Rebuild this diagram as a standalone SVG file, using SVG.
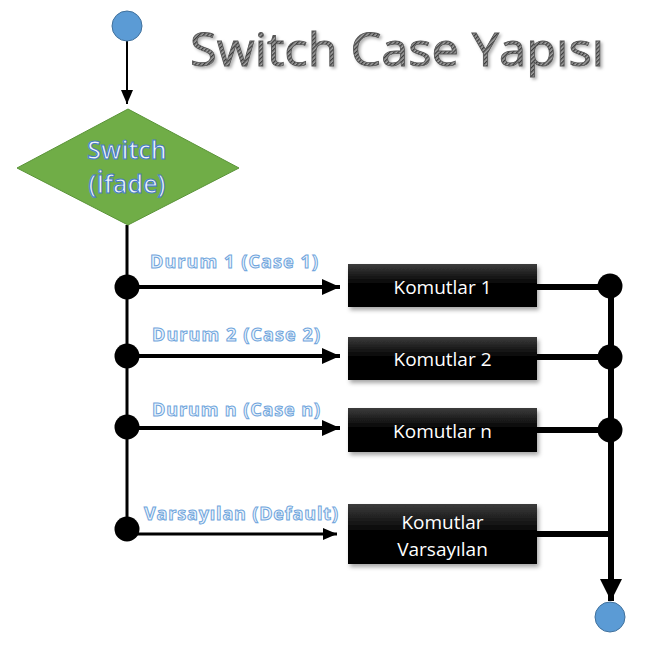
<svg xmlns="http://www.w3.org/2000/svg" width="672" height="645" viewBox="0 0 672 645">
<defs>
<linearGradient id="boxg" x1="0" y1="0" x2="0" y2="1">
<stop offset="0" stop-color="#3c3c3c"/>
<stop offset="0.45" stop-color="#050505"/>
<stop offset="1" stop-color="#000"/>
</linearGradient>
<pattern id="hatch" width="3" height="3" patternUnits="userSpaceOnUse" patternTransform="rotate(45)">
<rect width="3" height="3" fill="#a0a0a0"/>
<rect width="1.3" height="3" fill="#3a3a3a"/>
</pattern>
<filter id="sh" x="-10%" y="-20%" width="130%" height="160%">
<feDropShadow dx="2" dy="3" stdDeviation="2" flood-color="#000" flood-opacity="0.35"/>
</filter>
<filter id="tsh" x="-5%" y="-20%" width="115%" height="150%">
<feDropShadow dx="2" dy="2" stdDeviation="1.5" flood-color="#000" flood-opacity="0.3"/>
</filter>
<marker id="ah" markerUnits="userSpaceOnUse" markerWidth="18" markerHeight="18" viewBox="0 0 18 18" refX="18" refY="9" orient="auto">
<path d="M0,1 L18,9 L0,17 Z" fill="#000"/>
</marker>
<marker id="ahs" markerUnits="userSpaceOnUse" markerWidth="14" markerHeight="14" viewBox="0 0 14 14" refX="14" refY="7" orient="auto">
<path d="M0,1 L14,7 L0,13 Z" fill="#000"/>
</marker>
<marker id="ahb" markerUnits="userSpaceOnUse" markerWidth="22" markerHeight="22" viewBox="0 0 22 22" refX="22" refY="11" orient="auto">
<path d="M0,0 L22,11 L0,22 Z" fill="#000"/>
</marker>
</defs>
<style>
.circ{fill:#5b9bd5;stroke:#41719c;stroke-width:1}
.box{fill:url(#boxg);filter:url(#sh)}
.btxt{font-family:"Open Sans","Liberation Sans",sans-serif;font-size:19px;fill:#fff;text-anchor:middle}
.lbl{font-family:"Open Sans","Liberation Sans",sans-serif;font-size:18px;font-weight:bold;fill:#eef5fc;stroke:#6fa5dc;stroke-width:1px}
.dot{fill:#000}
.ln{stroke:#000;fill:none}
.sw{font-family:"Open Sans","Liberation Sans",sans-serif;font-size:25px;font-weight:600;fill:#eef4fb;stroke:#4a7cc4;stroke-width:1.1px;text-anchor:middle}
</style>

<text x="190" y="66" font-family="Open Sans, Liberation Sans, sans-serif" font-size="46" fill="url(#hatch)" stroke="#555" stroke-width="0.8" filter="url(#tsh)" textLength="414" lengthAdjust="spacingAndGlyphs">Switch Case Yapısı</text>

<g id="connectors">
<line class="ln" x1="127" y1="41" x2="127" y2="104" stroke-width="2" marker-end="url(#ahs)"/>
<line class="ln" x1="127" y1="225" x2="127" y2="530" stroke-width="3"/>
<line class="ln" x1="127" y1="287" x2="340" y2="287" stroke-width="4" marker-end="url(#ah)"/>
<line class="ln" x1="127" y1="356" x2="340" y2="356" stroke-width="4" marker-end="url(#ah)"/>
<line class="ln" x1="127" y1="428" x2="340" y2="428" stroke-width="4" marker-end="url(#ah)"/>
<line class="ln" x1="127" y1="534" x2="337" y2="534" stroke-width="3" marker-end="url(#ahs)"/>
<line class="ln" x1="537" y1="287" x2="611" y2="287" stroke-width="6"/>
<line class="ln" x1="537" y1="357" x2="611" y2="357" stroke-width="6"/>
<line class="ln" x1="537" y1="430" x2="611" y2="430" stroke-width="6"/>
<line class="ln" x1="537" y1="534" x2="611" y2="534" stroke-width="6"/>
<line class="ln" x1="611" y1="286" x2="611" y2="601" stroke-width="6" marker-end="url(#ahb)"/>
<circle class="dot" cx="127" cy="287" r="12.5"/>
<circle class="dot" cx="127" cy="356" r="12.5"/>
<circle class="dot" cx="127" cy="427" r="12.5"/>
<circle class="dot" cx="127" cy="529" r="12.5"/>
<circle class="dot" cx="610" cy="286" r="12.5"/>
<circle class="dot" cx="610" cy="357" r="12.5"/>
<circle class="dot" cx="610" cy="430" r="12.5"/>
<text class="lbl" x="150" y="268" textLength="168">Durum 1 (Case 1)</text>
<text class="lbl" x="152" y="341" textLength="168">Durum 2 (Case 2)</text>
<text class="lbl" x="152" y="416" textLength="168">Durum n (Case n)</text>
<text class="lbl" x="144" y="520" textLength="194">Varsayılan (Default)</text>
</g>

<g id="start"><circle class="circ" cx="127" cy="26" r="15"/></g>

<g id="switch">
<polygon points="128,109 239,168 128,225 17,168" fill="#70ad47" stroke="#5a9438" stroke-width="1"/>
<text class="sw" x="127" y="159">Switch</text>
<text class="sw" x="127" y="193">(İfade)</text>
</g>

<g id="k1"><rect class="box" x="348" y="264" width="189" height="43"/><text class="btxt" x="442.5" y="294">Komutlar 1</text></g>
<g id="k2"><rect class="box" x="348" y="337" width="189" height="43"/><text class="btxt" x="442.5" y="366">Komutlar 2</text></g>
<g id="kn"><rect class="box" x="348" y="408" width="189" height="44"/><text class="btxt" x="442.5" y="438">Komutlar n</text></g>
<g id="kd"><rect class="box" x="348" y="504" width="189" height="60"/><text class="btxt" x="442.5" y="529">Komutlar</text><text class="btxt" x="442.5" y="556">Varsayılan</text></g>

<g id="end"><circle class="circ" cx="610" cy="617" r="15"/></g>
</svg>
